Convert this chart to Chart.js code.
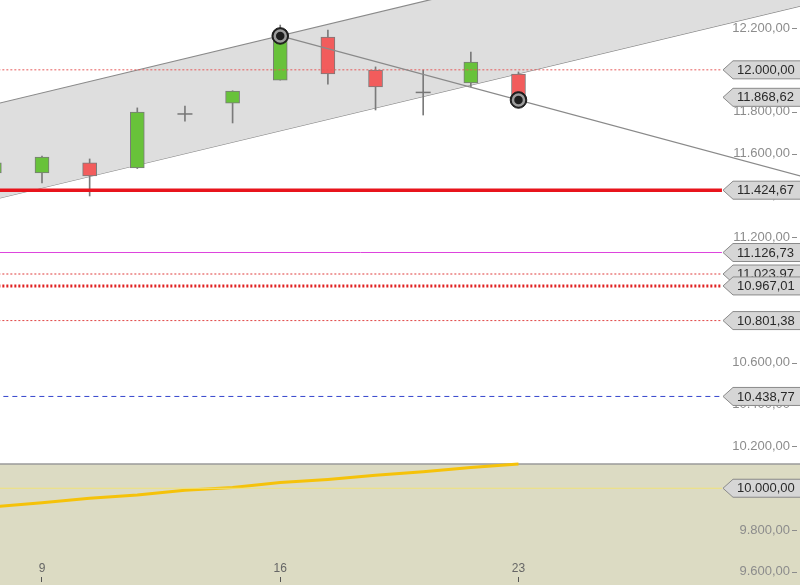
<!DOCTYPE html>
<html><head><meta charset="utf-8">
<script src="https://cdn.jsdelivr.net/npm/chart.js@4.4.1/dist/chart.umd.min.js"></script>
<style>html,body{margin:0;padding:0;background:#fff}canvas{display:block}</style>
</head><body>
<canvas id="c" width="800" height="585"></canvas>
<script>
// ---- data ----
const days  = ['6','9','10','11','12','13','16','17','18','19','20','23'];
const xTickDays = ['9','16','23'];
const open  = [11507,11507,11555,11531,11789,11841,11951,12157,11999,11892,11937,11980];
const high  = [11560,11588,11574,11818,11827,11900,12214,12190,12014,11999,12085,11990];
const low   = [11495,11459,11397,11528,11755,11746,11951,11932,11808,11784,11918,11862];
const close = [11555,11583,11493,11798,11789,11899,12157,11980,11918,11892,12037,11868.62];
const indicator = [9912,9931,9952,9968,9990,10004,10027,10042,10062,10079,10099,10116];
const channelX = [0, 17];
const channelLower = [11381, 12310];
const channelUpper = [11835, 12764];
const trendX = [6, 17];
const trendY = [12162, 11488];
const pivotX = [6, 11];
const pivotY = [12162, 11856];
const levels = [12000, 11424.67, 11126.73, 11023.97, 10967.01, 10801.38, 10438.77, 10000];
const levelSpan = [0, 15.27];
const priceTags = [12000, 11868.62, 11424.67, 11126.73, 11023.97, 10967.01, 10801.38, 10438.77, 10000];
const panelTop = 10116;

// ---- styles ----
const levelStyles = [
  {c:'#e65a5a', w:1,   d:[2,2]},
  {c:'#e8141c', w:3.5, d:[]},
  {c:'#dd44dd', w:1,   d:[]},
  {c:'#e03a3a', w:1.2, d:[2,2]},
  {c:'#e02222', w:3,   d:[2,2]},
  {c:'#e04444', w:1,   d:[2,2]},
  {c:'#3344cc', w:1,   d:[5,4]},
  {c:'#f0e27a', w:1.2, d:[]}
];
const GREEN = '#68c23a', RED = '#f25c5c';
const FONT = 'Liberation Sans, Arial, sans-serif';

function fmt(v){
  const s = Math.abs(v).toFixed(2).split('.');
  return s[0].replace(/\B(?=(\d{3})+(?!\d))/g,'.') + ',' + s[1];
}

const idx = days.map((d,i)=>i);
const bodies = idx.filter(i=>open[i]!==close[i]).map(i=>({x:i, y:[open[i], close[i]]}));
const wicks = idx.map(i=>({x:i, y:[low[i], high[i]]}));
const dojis = idx.filter(i=>open[i]===close[i]).map(i=>({x:i, y:close[i]}));

const datasets = [];
datasets.push({type:'line', data: pivotX.map((x,k)=>({x, y:pivotY[k]})), showLine:false,
  pointRadius:5.5, pointBackgroundColor:'#1e1e1e', pointBorderColor:'#9d9d9d', pointBorderWidth:2.5, order:0});
datasets.push({type:'line', data: pivotX.map((x,k)=>({x, y:pivotY[k]})), showLine:false,
  pointRadius:8.3, pointBackgroundColor:'#1e1e1e', pointBorderColor:'#1e1e1e', pointBorderWidth:1, order:1});
datasets.push({type:'line', data: trendX.map((x,k)=>({x, y:trendY[k]})), borderColor:'#8a8a8a', borderWidth:1.2,
  pointRadius:0, clip:false, order:2});
levels.forEach((v,k)=>{
  const s = levelStyles[k];
  datasets.push({type:'line', data: levelSpan.map(x=>({x, y:v})), borderColor:s.c, borderWidth:s.w,
    borderDash:s.d, pointRadius:0, order:2.5});
});
datasets.push({type:'bar', data: bodies, grouped:false, barThickness:14, borderWidth:1, borderColor:'#7a7a7a',
  borderSkipped:false, backgroundColor: c => (c.raw && c.raw.y[1] >= c.raw.y[0]) ? GREEN : RED, order:3});
datasets.push({type:'line', data: dojis, showLine:false, pointStyle:'line', pointRadius:7.5,
  pointBorderColor:'#777', pointBorderWidth:1.5, order:3});
datasets.push({type:'bar', data: wicks, grouped:false, barThickness:1, backgroundColor:'#7a7a7a', borderWidth:0, order:4});
datasets.push({type:'line', data: idx.map(i=>({x:i, y:indicator[i]})), borderColor:'#f5c20a', borderWidth:3,
  pointRadius:0, order:7});
datasets.push({type:'line', data: channelX.map((x,k)=>({x, y:channelUpper[k]})), borderColor:'#8a8a8a', borderWidth:1.2,
  pointRadius:0, fill:'+1', backgroundColor:'#dedede', clip:false, order:8});
datasets.push({type:'line', data: channelX.map((x,k)=>({x, y:channelLower[k]})), borderColor:'#8a8a8a', borderWidth:1.2,
  pointRadius:0, clip:false, order:9});

const bgPlugin = {
  id:'bg',
  beforeDraw(chart){
    const ctx = chart.ctx, y = chart.scales.y;
    ctx.save();
    ctx.fillStyle = '#ffffff';
    ctx.fillRect(0,0,chart.width,chart.height);
    const py = y.getPixelForValue(panelTop);
    ctx.fillStyle = '#dcdbc3';
    ctx.fillRect(0, py, chart.width, chart.height - py);
    ctx.strokeStyle = '#9a9a9a'; ctx.lineWidth = 1.5;
    ctx.beginPath(); ctx.moveTo(0, py); ctx.lineTo(chart.width, py); ctx.stroke();
    ctx.restore();
  },
  afterDraw(chart){
    const ctx = chart.ctx, y = chart.scales.y;
    ctx.save();
    ctx.strokeStyle = '#8c8c8c'; ctx.lineWidth = 1;
    y.ticks.forEach(t=>{
      const py = Math.round(y.getPixelForValue(t.value)) + 0.5;
      ctx.beginPath(); ctx.moveTo(792, py); ctx.lineTo(797, py); ctx.stroke();
    });
    ctx.font = '13px ' + FONT;
    ctx.textBaseline = 'middle';
    priceTags.forEach(v=>{
      const py = y.getPixelForValue(v);
      const h = 9;
      ctx.beginPath();
      ctx.moveTo(723, py);
      ctx.lineTo(733, py - h);
      ctx.lineTo(801, py - h);
      ctx.lineTo(801, py + h);
      ctx.lineTo(733, py + h);
      ctx.closePath();
      ctx.fillStyle = '#d6d6d6';
      ctx.fill();
      ctx.strokeStyle = '#8a8a8a'; ctx.lineWidth = 1;
      ctx.stroke();
      ctx.fillStyle = '#2a2a2a';
      ctx.fillText(fmt(v), 737, py + 0.5);
    });
    ctx.restore();
  }
};

new Chart(document.getElementById('c'), {
  type:'bar',
  data:{datasets},
  plugins:[bgPlugin],
  options:{
    responsive:false, animation:false,
    layout:{autoPadding:false, padding:{left:0,right:0,top:0,bottom:1}},
    plugins:{legend:{display:false}, tooltip:{enabled:false}},
    scales:{
      x:{type:'linear', position:'bottom', min:0.1186, max:16.908, offset:false, z:1,
        afterBuildTicks: s => { s.ticks = xTickDays.map(d=>({value: days.indexOf(d)})); },
        afterFit: s => { s.paddingLeft = 0; s.paddingRight = 0; },
        ticks:{mirror:true, padding:1, color:'#666', font:{family:FONT, size:12},
          callback: v => days[v]},
        grid:{offset:false, drawOnChartArea:false, drawTicks:true, tickLength:5, color:'#555'},
        border:{display:false}},
      y:{type:'linear', position:'right', min:9575.7, max:12333.8, z:1,
        afterFit: s => { s.width = 0; s.paddingTop = 0; s.paddingBottom = 0; },
        ticks:{mirror:true, padding:-10, stepSize:200, includeBounds:false, color:'#8c8c8c',
          font:{family:FONT, size:13}, callback: v => fmt(v)},
        grid:{drawOnChartArea:false, drawTicks:false},
        border:{display:false}}
    }
  }
});
</script>
</body></html>
